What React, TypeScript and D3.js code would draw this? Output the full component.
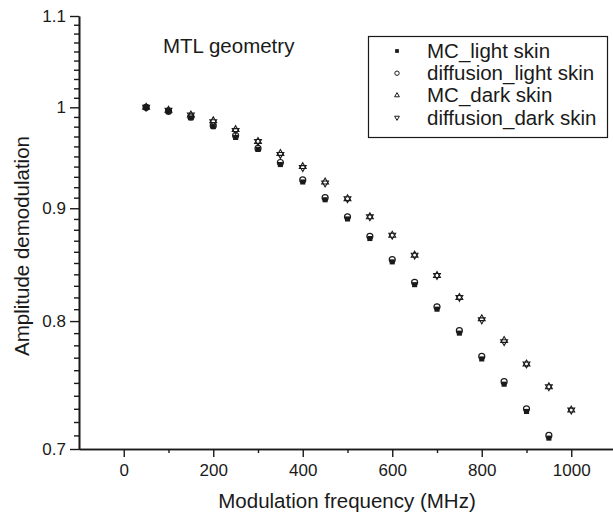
import React, { useEffect, useRef } from 'react'
import * as d3 from 'd3'

// modulation frequency (MHz)
const frequencies = [50, 100, 150, 200, 250, 300, 350, 400, 450, 500, 550, 600, 650, 700, 750, 800, 850, 900, 950, 1000]

// light skin stops at 950 MHz
const mcLight = [1.0, 0.996, 0.989, 0.98, 0.969, 0.957, 0.942, 0.925, 0.908, 0.89, 0.872, 0.851, 0.831, 0.81, 0.79, 0.769, 0.749, 0.728, 0.708]
const diffusionLight = [1.0, 0.996, 0.99, 0.981, 0.971, 0.958, 0.944, 0.927, 0.91, 0.892, 0.874, 0.853, 0.833, 0.812, 0.792, 0.771, 0.751, 0.73, 0.71]
const mcDark = [1.0, 0.997, 0.992, 0.986, 0.977, 0.965, 0.953, 0.94, 0.925, 0.909, 0.892, 0.875, 0.857, 0.839, 0.82, 0.802, 0.784, 0.765, 0.747, 0.729]
const diffusionDark = [1.0, 0.997, 0.992, 0.985, 0.976, 0.965, 0.952, 0.939, 0.924, 0.909, 0.892, 0.875, 0.857, 0.839, 0.82, 0.801, 0.783, 0.765, 0.747, 0.729]

const xTicks = [0, 200, 400, 600, 800, 1000]
const xMinorTicks = [100, 300, 500, 700, 900]
const yTicks = [0.7, 0.8, 0.9, 1, 1.1]
const legendLabels = ['MC_light skin', 'diffusion_light skin', 'MC_dark skin', 'diffusion_dark skin']

const FONT = '"Liberation Sans", Arial, Helvetica, sans-serif'
const INK = '#1a1a1a'

export default function App() {
  const ref = useRef<SVGSVGElement | null>(null)

  useEffect(() => {
    if (!ref.current) {
      return
    }
    const svg = d3.select(ref.current)
    svg.selectAll('*').remove()

    const width = 613
    const height = 519
    const left = 79
    const bottom = 449
    const top = 16

    const x = d3.scaleLinear().domain([-100, 1100]).range([left, 616])
    const y = d3.scaleLog().domain([0.7, 1.1]).range([bottom, top])

    svg.attr('width', width).attr('height', height).attr('viewBox', `0 0 ${width} ${height}`)
    svg.append('rect').attr('width', width).attr('height', height).attr('fill', '#fff')

    const styleAxis = (g: d3.Selection<SVGGElement, unknown, null, undefined>, size: number) => {
      g.selectAll('path').attr('stroke', INK).attr('stroke-width', 1.6)
      g.selectAll('line').attr('stroke', INK).attr('stroke-width', 1.4)
      g.selectAll('text').attr('fill', INK).attr('font-family', FONT).attr('font-size', size)
    }

    // x axis
    const xMinor = svg
      .append('g')
      .attr('transform', `translate(0,${bottom})`)
      .call(d3.axisBottom(x).tickValues(xMinorTicks).tickSize(4).tickSizeOuter(0).tickFormat(() => ''))
    styleAxis(xMinor, 17)
    const xAxis = svg
      .append('g')
      .attr('transform', `translate(0,${bottom})`)
      .call(d3.axisBottom(x).tickValues(xTicks).tickSize(8).tickPadding(7).tickSizeOuter(0).tickFormat((d) => String(d)))
    styleAxis(xAxis, 17)

    // y axis, minor ticks every 0.01
    const yMinorValues = d3.range(70, 111).map((v) => v / 100).filter((v) => !yTicks.some((t) => Math.abs(t - v) < 1e-9))
    const yMinor = svg
      .append('g')
      .attr('transform', `translate(${left},0)`)
      .call(d3.axisLeft(y).tickValues(yMinorValues).tickSize(5).tickSizeOuter(0).tickFormat(() => ''))
    styleAxis(yMinor, 17)
    const yAxis = svg
      .append('g')
      .attr('transform', `translate(${left},0)`)
      .call(d3.axisLeft(y).tickValues(yTicks).tickSize(9).tickPadding(4).tickSizeOuter(0).tickFormat((d) => String(d)))
    styleAxis(yAxis, 17)

    // axis titles
    svg
      .append('text')
      .attr('x', 347)
      .attr('y', 508)
      .attr('text-anchor', 'middle')
      .attr('font-family', FONT)
      .attr('font-size', 20.5)
      .attr('fill', INK)
      .text('Modulation frequency (MHz)')

    svg
      .append('text')
      .attr('transform', `translate(29,246) rotate(-90)`)
      .attr('text-anchor', 'middle')
      .attr('font-family', FONT)
      .attr('font-size', 20.5)
      .attr('fill', INK)
      .text('Amplitude demodulation')

    svg
      .append('text')
      .attr('x', 163)
      .attr('y', 53)
      .attr('font-family', FONT)
      .attr('font-size', 20.5)
      .attr('fill', INK)
      .text('MTL geometry')

    const square = d3.symbol().type(d3.symbolSquare)
    const triangle = d3.symbol().type(d3.symbolTriangle)

    const plot = svg.append('g')

    // MC light skin: filled squares
    plot
      .selectAll('path.mc-light')
      .data(mcLight)
      .enter()
      .append('path')
      .attr('class', 'mc-light')
      .attr('d', square.size(26)())
      .attr('transform', (d, i) => `translate(${x(frequencies[i])},${y(d)})`)
      .attr('fill', INK)

    // diffusion light skin: open circles
    plot
      .selectAll('circle.diff-light')
      .data(diffusionLight)
      .enter()
      .append('circle')
      .attr('class', 'diff-light')
      .attr('cx', (d, i) => x(frequencies[i]))
      .attr('cy', (d) => y(d))
      .attr('r', 3)
      .attr('fill', 'none')
      .attr('stroke', INK)
      .attr('stroke-width', 1.2)

    // MC dark skin: open up-triangles
    plot
      .selectAll('path.mc-dark')
      .data(mcDark)
      .enter()
      .append('path')
      .attr('class', 'mc-dark')
      .attr('d', triangle.size(20)())
      .attr('transform', (d, i) => `translate(${x(frequencies[i])},${y(d)})`)
      .attr('fill', 'none')
      .attr('stroke', INK)
      .attr('stroke-width', 1.1)

    // diffusion dark skin: open down-triangles
    plot
      .selectAll('path.diff-dark')
      .data(diffusionDark)
      .enter()
      .append('path')
      .attr('class', 'diff-dark')
      .attr('d', triangle.size(20)())
      .attr('transform', (d, i) => `translate(${x(frequencies[i])},${y(d)}) rotate(180)`)
      .attr('fill', 'none')
      .attr('stroke', INK)
      .attr('stroke-width', 1.1)

    // legend
    const legend = svg.append('g')
    legend
      .append('rect')
      .attr('x', 368.5)
      .attr('y', 36.5)
      .attr('width', 239)
      .attr('height', 101)
      .attr('fill', '#fff')
      .attr('stroke', INK)
      .attr('stroke-width', 1.2)

    const rowY = (i: number) => 51 + i * 22.2
    legendLabels.forEach((label, i) => {
      const cy = rowY(i)
      if (i === 0) {
        legend.append('path').attr('d', square.size(14)()).attr('transform', `translate(397,${cy})`).attr('fill', INK)
      } else if (i === 1) {
        legend.append('circle').attr('cx', 397).attr('cy', cy).attr('r', 2.2).attr('fill', 'none').attr('stroke', INK).attr('stroke-width', 1)
      } else {
        legend
          .append('path')
          .attr('d', triangle.size(10)())
          .attr('transform', `translate(397,${cy})${i === 3 ? ' rotate(180)' : ''}`)
          .attr('fill', 'none')
          .attr('stroke', INK)
          .attr('stroke-width', 1)
      }
      legend
        .append('text')
        .attr('x', 427)
        .attr('y', cy + 7)
        .attr('font-family', FONT)
        .attr('font-size', 20.5)
        .attr('fill', INK)
        .text(label)
    })
  }, [])

  return (
    <div style={{ position: 'absolute', left: 0, top: 0 }}>
      <svg ref={ref} style={{ display: 'block' }} />
    </div>
  )
}
